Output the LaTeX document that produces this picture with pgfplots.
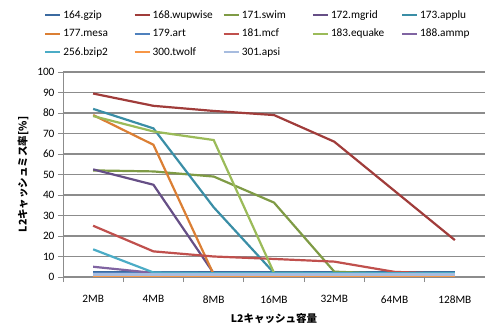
\documentclass[border=0pt]{standalone}
\usepackage{pgfplots}
\pgfplotsset{compat=1.18}
\usetikzlibrary{calc}
\usepackage{fontspec}
\setmainfont{Carlito}
\newfontfamily\jp{Noto Sans CJK JP}

\definecolor{cGzip}{HTML}{3B6AA0}
\definecolor{cWup}{HTML}{A03C3A}
\definecolor{cSwim}{HTML}{7F9B45}
\definecolor{cMgrid}{HTML}{664F86}
\definecolor{cApplu}{HTML}{3A8EA6}
\definecolor{cMesa}{HTML}{DB7F34}
\definecolor{cArt}{HTML}{4F81BD}
\definecolor{cMcf}{HTML}{C0504D}
\definecolor{cEquake}{HTML}{9BBB59}
\definecolor{cAmmp}{HTML}{8064A2}
\definecolor{cBzip}{HTML}{4BACC6}
\definecolor{cTwolf}{HTML}{F79646}
\definecolor{cApsi}{HTML}{A7BCDF}
\definecolor{gridgray}{HTML}{8C8C8C}

\newcommand{\legcell}[1]{\makebox[66pt][l]{#1}}

\begin{document}
\begin{tikzpicture}
\begin{axis}[
  scale only axis, width=422pt, height=205pt,
  xmin=-0.5, xmax=6.5, ymin=0, ymax=100,
  axis x line*=bottom, axis y line*=left,
  axis line style={gridgray, line width=0.8pt},
  xtick={0,...,6},
  xticklabels={2MB,4MB,8MB,16MB,32MB,64MB,128MB},
  major x tick style={draw=none},
  minor xtick={-0.5,0.5,...,6.5},
  minor x tick style={gridgray, line width=0.8pt},
  minor tick length=5pt,
  ytick={0,10,...,100},
  y tick style={gridgray, line width=0.8pt},
  major tick length=5pt,
  tick align=outside,
  ymajorgrids,
  major grid style={gridgray, line width=1.3pt},
  xticklabel style={yshift=-10pt},
  ticklabel style={font=\fontsize{11.3}{12}\selectfont},
  /pgf/number format/assume math mode=true,
  xlabel={\jp\bfseries L2キャッシュ容量},
  ylabel={\jp\bfseries L2キャッシュミス率[\%]},
  label style={font=\fontsize{10.5}{12}\selectfont},
  xlabel style={yshift=-3pt},
  ylabel style={yshift=2pt},
  every axis plot/.append style={line width=2.2pt, mark=none},
  legend columns=5,
  legend style={at={(-0.045,1.31)}, anchor=north west, draw=none,
    inner sep=0pt, font=\fontsize{11.3}{12}\selectfont,
    row sep=5pt, /tikz/every even column/.append style={column sep=2pt}},
  legend cell align=left,
  legend image code/.code={\draw[#1, line width=2.2pt] (0pt,0pt) -- (15pt,0pt);},
  clip=false,
]
\addplot[cGzip]   coordinates {(0,2.3)(1,2.3)(2,2.3)(3,2.3)(4,2.3)(5,2.3)(6,2.3)};
\addplot[cWup]    coordinates {(0,89.5)(1,83.5)(2,81)(3,79)(4,66)(5,42)(6,18)};
\addplot[cSwim]   coordinates {(0,52)(1,51.5)(2,49)(3,36.3)(4,2.6)(5,1.5)(6,1.5)};
\addplot[cMgrid]  coordinates {(0,52.5)(1,45)(2,1.8)(3,1.8)(4,1.8)(5,1.8)(6,1.8)};
\addplot[cApplu]  coordinates {(0,82)(1,72.5)(2,34)(3,2)(4,2)(5,2)(6,2)};
\addplot[cMesa]   coordinates {(0,79)(1,64.5)(2,1.2)(3,1)(4,1)(5,1)(6,1)};
\addplot[cArt]    coordinates {(0,2)(1,2)(2,2)(3,2)(4,2)(5,2)(6,2)};
\addplot[cMcf]    coordinates {(0,25)(1,12.5)(2,10)(3,8.8)(4,7.5)(5,2.5)(6,1.5)};
\addplot[cEquake] coordinates {(0,78.5)(1,71)(2,66.8)(3,2)(4,1.8)(5,1.8)(6,1.8)};
\addplot[cAmmp]   coordinates {(0,5)(1,2)(2,1.8)(3,1.8)(4,1.8)(5,1.8)(6,1.8)};
\addplot[cBzip]   coordinates {(0,13.5)(1,2.2)(2,1.8)(3,1.8)(4,1.8)(5,1.8)(6,1.8)};
\addplot[cTwolf]  coordinates {(0,0.3)(1,0.3)(2,0.3)(3,0.3)(4,0.3)(5,0.3)(6,0.3)};
\addplot[cApsi]   coordinates {(0,1.2)(1,1.2)(2,1.2)(3,1.2)(4,1.2)(5,1.2)(6,1.2)};
\legend{\legcell{164.gzip},\legcell{168.wupwise},\legcell{171.swim},\legcell{172.mgrid},\legcell{173.applu},
        \legcell{177.mesa},\legcell{179.art},\legcell{181.mcf},\legcell{183.equake},\legcell{188.ammp},
        \legcell{256.bzip2},\legcell{300.twolf},\legcell{301.apsi}}
\coordinate (LL) at (axis cs:-0.5,0);
\end{axis}
% fixed page frame around the plot area
\pgfresetboundingbox
\useasboundingbox ($(LL)+(-63pt,-50pt)$) rectangle ($(LL)+(422pt,277pt)$);
\end{tikzpicture}
\end{document}
